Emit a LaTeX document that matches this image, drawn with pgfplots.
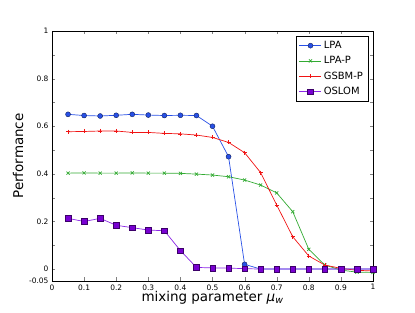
\documentclass[border=0pt]{standalone}
\usepackage{fontspec}
\setmainfont{DejaVu Sans}
\usepackage{pgfplots}
\pgfplotsset{compat=1.18}
\definecolor{cblue}{RGB}{40,80,230}
\definecolor{cgreen}{RGB}{50,170,50}
\definecolor{cred}{RGB}{240,20,20}
\definecolor{cpurple}{RGB}{140,40,230}
\definecolor{cpurplem}{RGB}{120,0,210}
\begin{document}
\begin{tikzpicture}
\useasboundingbox (-52bp,-32bp) rectangle (363bp,281bp);
\begin{axis}[
  at={(0,0)}, anchor=south west,
  scale only axis, width=321bp, height=250bp,
  xmin=0, xmax=1, ymin=-0.05, ymax=1,
  xtick={0,0.1,...,1.01},
  xticklabels={0,0.1,0.2,0.3,0.4,0.5,0.6,0.7,0.8,0.9,1},
  ytick={-0.05,0,0.1,0.2,0.3,0.4,0.5,0.6,0.7,0.8,0.9,1},
  yticklabels={-0.05,0,,0.2,,0.4,,0.6,,0.8,,1},
  tick align=inside, tick pos=both,
  major tick length=3.5bp,
  tick label style={font=\fontsize{7.5}{9}\selectfont},
  /pgf/number format/assume math mode=true,
  xlabel={mixing parameter \textit{μ}\textsubscript{\textit{w}}},
  ylabel={Performance},
  label style={font=\fontsize{13.5}{15}\selectfont},
  xlabel style={yshift=6bp},
  ylabel style={yshift=-1bp},
  legend style={at={(0.985,0.98)}, anchor=north east, font=\fontsize{10}{12}\selectfont, draw=black, line width=0.6pt, row sep=2.5pt, inner xsep=3pt, inner ysep=3pt},
  legend cell align=left,
  legend image code/.code={\draw[mark repeat=2,mark phase=2] plot coordinates {(0bp,0bp)(11bp,0bp)(22bp,0bp)};},
  every axis plot/.append style={line width=0.7pt},
]
\addplot[color=cblue, mark=*, mark size=2.5bp, mark options={fill=cblue, draw=black!60!cblue, line width=0.4pt}] coordinates {
(0.05,0.650)(0.10,0.645)(0.15,0.643)(0.20,0.646)(0.25,0.650)(0.30,0.647)(0.35,0.645)(0.40,0.646)(0.45,0.645)(0.50,0.600)(0.55,0.472)(0.60,0.020)(0.65,0.000)(0.70,0.000)(0.75,0.000)(0.80,0.000)(0.85,0.000)(0.90,0.000)(0.95,0.000)(1.00,0.000)};
\addlegendentry{LPA}
\addplot[color=cgreen, mark=x, mark size=2.2bp] coordinates {
(0.05,0.403)(0.10,0.404)(0.15,0.403)(0.20,0.403)(0.25,0.404)(0.30,0.403)(0.35,0.403)(0.40,0.402)(0.45,0.399)(0.50,0.395)(0.55,0.388)(0.60,0.374)(0.65,0.353)(0.70,0.320)(0.75,0.241)(0.80,0.083)(0.85,0.017)(0.90,-0.004)(0.95,-0.013)(1.00,-0.014)};
\addlegendentry{LPA-P}
\addplot[color=cred, mark=+, mark size=2bp] coordinates {
(0.05,0.577)(0.10,0.578)(0.15,0.580)(0.20,0.580)(0.25,0.574)(0.30,0.574)(0.35,0.570)(0.40,0.568)(0.45,0.563)(0.50,0.553)(0.55,0.532)(0.60,0.489)(0.65,0.405)(0.70,0.269)(0.75,0.136)(0.80,0.055)(0.85,0.017)(0.90,0.003)(0.95,-0.005)(1.00,-0.008)};
\addlegendentry{GSBM-P}
\addplot[color=cpurple, mark=square*, mark size=2.8bp, mark options={fill=cpurplem, draw=black!50!cpurplem, line width=0.4pt}] coordinates {
(0.05,0.213)(0.10,0.200)(0.15,0.213)(0.20,0.184)(0.25,0.174)(0.30,0.164)(0.35,0.161)(0.40,0.078)(0.45,0.007)(0.50,0.005)(0.55,0.004)(0.60,0.002)(0.65,0.000)(0.70,0.000)(0.75,0.000)(0.80,0.000)(0.85,0.000)(0.90,0.000)(0.95,0.000)(1.00,0.000)};
\addlegendentry{OSLOM}
\end{axis}
\end{tikzpicture}
\end{document}
